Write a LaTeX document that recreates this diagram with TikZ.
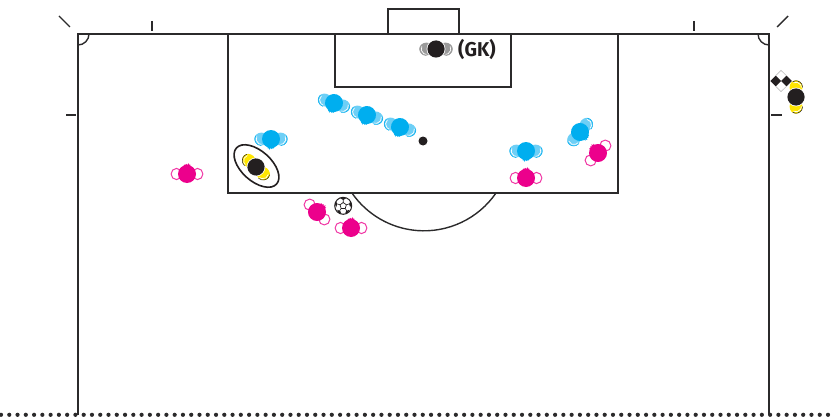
\documentclass[tikz,border=0pt]{standalone}
\usepackage{fontspec}
\setmainfont{Fira Sans}
\definecolor{lineink}{HTML}{2B2A2B}
\definecolor{bluehead}{HTML}{00AEEF}
\definecolor{bluelight}{HTML}{6DCFF6}
\definecolor{pinkhead}{HTML}{EC008C}
\definecolor{yellowsh}{HTML}{FFE600}
\definecolor{inkblack}{HTML}{231F20}
\definecolor{graysh}{HTML}{9A9A9A}
\tikzset{pitchline/.style={draw=lineink,line width=1.4pt},
  tickline/.style={draw=lineink,line width=1.4pt}}
% x, y, rotation, head colour, shoulder fill, rim colour, spikes(1/0)
\newcommand{\plfig}[7]{%
\begin{scope}[shift={(#1,#2)},rotate=#3]
  \foreach \sgn in {-1,1}{%
  \begin{scope}[xscale=\sgn]
    \fill[#5] (9.5,0) ellipse [x radius=7.2pt,y radius=6.4pt];
    \draw[white,line width=.7pt] (9.5,0) ++(30:5.4pt) arc[start angle=30,end angle=-90,radius=5.4pt];
    \draw[#6,line width=.5pt] (9.5,0) ++(30:6.7pt) arc[start angle=30,end angle=-90,radius=6.7pt];
  \end{scope}
  }
  \ifnum#7=1
    \fill[#4] (0,0) circle (9pt);
    \fill[#4] (-3.5,7) -- (-3,9.8) -- (-2.2,8.8) -- (-1.4,10.8) -- (-0.4,9) -- (0.8,10.2) -- (1.8,8.9) -- (2.8,9.5) -- (3.5,7) -- cycle;
  \else
    \fill[white] (0,0) circle (9.4pt);
    \fill[#4] (0,0) circle (8.6pt);
  \fi
\end{scope}}
\newcommand{\bluefig}[3]{\plfig{#1}{#2}{#3}{bluehead}{bluelight}{bluehead}{1}}
\newcommand{\pinkfig}[3]{%
\begin{scope}[shift={(#1,#2)},rotate=#3]
  \foreach \sx in {-10.5,10.5}{%
    \draw[pinkhead!80,fill=white,line width=1pt] (\sx,0) ellipse [x radius=5.4pt,y radius=5.6pt];
  }
  \fill[pinkhead] (0,0) circle (9pt);
  \fill[pinkhead] (-3.5,7) -- (-3,9.8) -- (-2.2,8.8) -- (-1.4,10.8) -- (-0.4,9) -- (0.8,10.2) -- (1.8,8.9) -- (2.8,9.5) -- (3.5,7) -- cycle;
\end{scope}}
\begin{document}
\begin{tikzpicture}[x=1pt,y=-1pt]
\useasboundingbox (0,0) rectangle (837,417);
% pitch
\draw[pitchline] (78,415) -- (78,34) -- (769,34) -- (769,415);
\draw[pitchline] (228,34) -- (228,193) -- (618,193) -- (618,34);
\draw[pitchline] (335,34) -- (335,87) -- (511,87) -- (511,34);
\draw[pitchline] (388,34) -- (388,9) -- (459,9) -- (459,34);
\draw[pitchline] (496,193) arc[start angle=-34.6,end angle=-145.4,radius=87.5pt];
\draw[pitchline] (89,34) arc[start angle=0,end angle=-90,radius=11pt];
\draw[pitchline] (758,34) arc[start angle=180,end angle=270,radius=11pt];
% ticks
\draw[tickline] (59,16) -- (70,27);
\draw[tickline] (788,16) -- (777,27);
\draw[tickline] (152,21) -- (152,31);
\draw[tickline] (694,21) -- (694,31);
\draw[tickline] (66,115) -- (76,115);
\draw[tickline] (771,115) -- (782,115);
% bottom dotted line
\foreach \i in {0,...,100}{\fill[lineink] ({1.0+8.27*\i},414.8) circle (2.1pt);}
% penalty spot
\fill[inkblack] (423,141) circle (4.5pt);
% blue players
\bluefig{271}{139}{0}
\bluefig{334}{103}{-18}
\bluefig{367}{115}{-18}
\bluefig{400}{127}{-18}
\bluefig{526}{151}{0}
\bluefig{580}{132}{50}
% pink players
\pinkfig{187}{174}{180}
\pinkfig{526}{178}{180}
\pinkfig{598}{153}{-135}
\pinkfig{317}{212}{135}
\pinkfig{351}{228}{180}
% referee
\plfig{256}{167}{-42}{inkblack}{yellowsh}{inkblack}{0}
\draw[inkblack,line width=1.6pt,rotate around={-42:(256.5,166)}] (256.5,166) ellipse [x radius=27pt,y radius=15pt];
% goalkeeper
\plfig{436}{49}{0}{inkblack}{graysh}{graysh}{0}
\node[anchor=west,inner sep=0pt,font=\fontsize{20}{20}\selectfont\bfseries,text=inkblack,xscale=.97] (gk) at (458,49.5) {(GK)};
% ball
\draw[inkblack,fill=white,line width=1pt] (343.2,205.8) circle (8.5pt);
\draw[inkblack,line width=.7pt] (343.2,202.5) -- (346.4,204.8) -- (345.2,208.5) -- (341.2,208.5) -- (340,204.8) -- cycle;
\draw[inkblack,line width=.6pt] (343.2,202.5) -- (343.2,198) (346.4,204.8) -- (351,203.3) (345.2,208.5) -- (348,212.5) (341.2,208.5) -- (338.4,212.5) (340,204.8) -- (335.4,203.3);
\fill[inkblack] (343.2,197.5) -- (346.2,198.2) -- (343.2,200) -- (340.2,198.2) -- cycle;
\fill[inkblack] (351.5,203.8) -- (350.2,207.3) -- (349.2,204.3) -- (350.2,201.3) -- cycle;
\fill[inkblack] (334.9,203.8) -- (336.2,207.3) -- (337.2,204.3) -- (336.2,201.3) -- cycle;
\fill[inkblack] (348.2,212.6) -- (345.2,213.4) -- (346.2,211) -- (349.2,209.8) -- cycle;
\fill[inkblack] (338.2,212.6) -- (341.2,213.4) -- (340.2,211) -- (337.2,209.8) -- cycle;
% corner flag
\fill[inkblack] (770.4,81) -- (775.7,75.7) -- (781,81) -- (775.7,86.3) -- cycle;
\fill[inkblack] (781.2,81) -- (786.5,75.7) -- (791.8,81) -- (786.5,86.3) -- cycle;
\draw[lightgray,line width=.6pt] (775.7,75.7) -- (781,70.4) -- (786.5,75.7);
\draw[lightgray,line width=.6pt] (775.7,86.3) -- (781,91.6) -- (786.5,86.3);
% assistant referee
\plfig{796}{97}{90}{inkblack}{yellowsh}{inkblack}{0}
\end{tikzpicture}
\end{document}
